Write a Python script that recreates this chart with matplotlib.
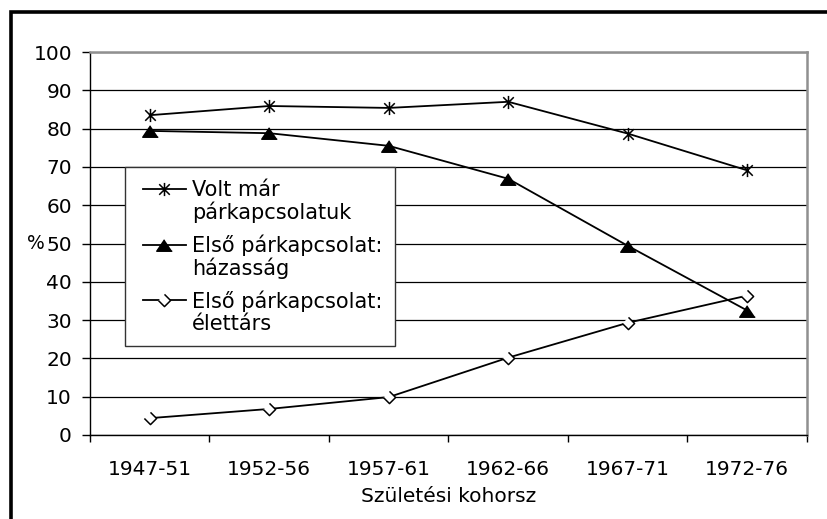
import numpy as np
import matplotlib
matplotlib.use("Agg")
import matplotlib.pyplot as plt
from matplotlib.patches import Rectangle
from matplotlib.path import Path
from matplotlib.legend_handler import HandlerLine2D
from matplotlib.transforms import blended_transform_factory

plt.rcParams['font.family'] = ['DejaVu Sans']

categories = ["1947-51", "1952-56", "1957-61", "1962-66", "1967-71", "1972-76"]
volt = [83.5, 85.9, 85.4, 87.0, 78.7, 69.1]
hazassag = [79.4, 78.8, 75.5, 66.9, 49.4, 32.5]
elettars = [4.4, 6.8, 9.9, 20.2, 29.3, 36.4]
labels = ["Volt már\npárkapcsolatuk", "Első párkapcsolat:\nházasság", "Első párkapcsolat:\nélettárs"]
yticks = list(range(0, 101, 10))

W, H = 828, 519
PX = 72 / 100  # points per pixel
fig = plt.figure(figsize=(W / 100, H / 100), dpi=100)
fig.patch.set_facecolor('white')

L, R, T, B = 90, 807, 52, 435
ax = fig.add_axes([L / W, 1 - B / H, (R - L) / W, (B - T) / H])

x = np.arange(len(categories))
d = 0.8
star = Path([(0, 1), (0, -1), (-d, d), (d, -d), (-d, -d), (d, d)],
            [Path.MOVETO, Path.LINETO, Path.MOVETO, Path.LINETO, Path.MOVETO, Path.LINETO])
tri = [(0, 1), (-1.35, -1), (1.35, -1)]
dia = [(0, 1), (1, 0), (0, -1), (-1, 0)]

LW = 1.3
l1, = ax.plot(x, volt, color='black', lw=LW, marker=star, ms=9.5, mew=1.1,
              mec='black', mfc='none', zorder=4)
l2, = ax.plot(x, hazassag, color='black', lw=LW, marker=tri, ms=11.2,
              mfc='black', mec='black', zorder=4)
l3, = ax.plot(x, elettars, color='black', lw=LW, marker=dia, ms=8.8, mew=1.1,
              mfc='white', mec='black', zorder=4)

ax.set_xlim(-0.5, len(categories) - 0.5)
ax.set_ylim(0, 100)
ax.set_yticks(yticks)
ax.set_yticklabels([str(v) for v in yticks])
ax.yaxis.grid(True, color='black', lw=0.9)
ax.set_axisbelow(True)

FS = 14.5
# x: major ticks at boundaries, labels at centers (minor)
ax.set_xticks(np.arange(-0.5, len(categories), 1.0))
ax.set_xticklabels([])
ax.set_xticks(x, minor=True)
ax.set_xticklabels(categories, minor=True)
ax.tick_params(axis='x', which='major', length=7 * PX, width=1, color='black', direction='out')
ax.tick_params(axis='x', which='minor', length=0, pad=25 * PX, labelsize=FS)
ax.tick_params(axis='y', length=8 * PX, width=1, color='black', direction='out',
               pad=10 * PX, labelsize=FS)

for s in ['left', 'bottom']:
    ax.spines[s].set_color('black')
    ax.spines[s].set_linewidth(1.0)
for s in ['top', 'right']:
    ax.spines[s].set_color('#909090')
    ax.spines[s].set_linewidth(1.8)

ax.set_xlabel("Születési kohorsz", fontsize=FS)
ax.xaxis.set_label_coords(0.5, -(497 - B) / (B - T))
ax.xaxis.label.set_va('center')

trans = blended_transform_factory(fig.transFigure, ax.transData)
fig.text(36 / W, 50, "%", transform=trans, ha='center', va='center', fontsize=FS - 1)


class TopHandler(HandlerLine2D):
    def __init__(self, yshift, xshift, **kw):
        super().__init__(**kw)
        self.yshift = yshift
        self.xshift = xshift

    def create_artists(self, legend, orig_handle, xdescent, ydescent, width, height,
                       fontsize, trans):
        arts = super().create_artists(legend, orig_handle, xdescent, ydescent, width,
                                      height, fontsize, trans)
        for a in arts:
            a.set_ydata(np.asarray(a.get_ydata(), float) + self.yshift)
            a.set_xdata(np.asarray(a.get_xdata(), float) + self.xshift)
        return arts


LFS = 15
hmap = {h: TopHandler(9.0, 5 * PX) for h in (l1, l2, l3)}
leg = ax.legend([l1, l2, l3], labels, loc='upper left',
                bbox_to_anchor=(125 / W, 1 - 167 / H), bbox_transform=fig.transFigure,
                borderaxespad=0, fontsize=LFS, frameon=True, fancybox=False,
                edgecolor='#333333', framealpha=1, numpoints=1,
                handlelength=2.1, handletextpad=0.5, labelspacing=0.55, borderpad=0.6,
                handler_map=hmap)
leg.get_frame().set_linewidth(1.0)
for t in leg.get_texts():
    t.set_linespacing(1.1)
leg.set_zorder(5)

# outer frame (top and left visible)
fig.patches.append(Rectangle((11 / W, -0.05), 1.2, 1 - 12 / H + 0.05, transform=fig.transFigure,
                             fill=False, edgecolor='black', lw=2.6, clip_on=False))

fig.savefig("out.png", dpi=100, facecolor='white')
